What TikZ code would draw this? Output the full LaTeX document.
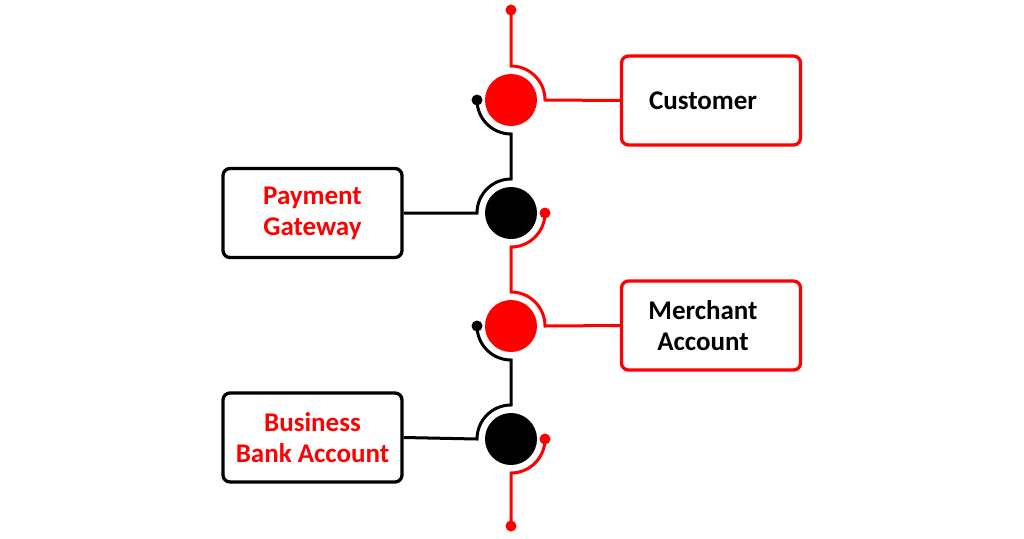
\documentclass[tikz,border=0pt]{standalone}
\usepackage{fontspec}
\setmainfont{Carlito}
\usetikzlibrary{calc}
\definecolor{pred}{RGB}{255,0,0}
\begin{document}
\begin{tikzpicture}[x=1pt,y=-1pt,
  hub/.style={circle,minimum size=52pt,inner sep=0pt},
  box/.style={draw,rounded corners=7pt,line width=3.3pt,minimum width=179pt,minimum height=89pt,
    inner sep=0pt,font=\bfseries\fontsize{27}{32}\selectfont,align=center},
  wire/.style={line width=3pt},
  dot/.style={circle,fill,inner sep=0pt,minimum size=11pt}]
\useasboundingbox (0,0) rectangle (1024,538);
% hubs
\node[hub,fill=pred] (c1) at (511,100) {};
\node[hub,fill=black] (c2) at (511,213) {};
\node[hub,fill=pred] (c3) at (511,326) {};
\node[hub,fill=black] (c4) at (511,439) {};
% boxes
\node[box,draw=pred,text=black] (cust) at (711,100.5) {Customer\hspace*{16pt}};
\node[box,draw=black,text=pred] (pay) at (312.5,213) {Payment\\[-1pt]Gateway};
\node[box,draw=pred,text=black] (merch) at (711,325.5) {Merchant\hspace*{16pt}\\[-1pt]Account\hspace*{16pt}};
\node[box,draw=black,text=pred] (bank) at (312.5,437.5) {Business\\[-1pt]Bank Account};
% end dots
\node[dot,pred] (top) at (511,10) {};
\node[dot,pred] (bot) at (511,526) {};
\node[dot,pred] (r2) at ($(c2)+(34,0)$) {};
\node[dot,pred] (r4) at ($(c4)+(34,0)$) {};
\node[dot,black] (l1) at ($(c1)+(-34,0)$) {};
\node[dot,black] (l3) at ($(c3)+(-34,0)$) {};
% red wires
\draw[wire,pred] (top.center) -- ($(c1)+(0,-34)$) arc[start angle=-90,end angle=0,radius=34] -- (cust.west);
\draw[wire,pred] (r2.center) arc[start angle=0,end angle=90,radius=34] -- ($(c3)+(0,-34)$)
  arc[start angle=-90,end angle=0,radius=34] -- (merch.west);
\draw[wire,pred] (r4.center) arc[start angle=0,end angle=90,radius=34] -- (bot.center);
% black wires
\draw[wire,black] (l1.center) arc[start angle=180,end angle=90,radius=34] -- ($(c2)+(0,-34)$)
  arc[start angle=270,end angle=180,radius=34] -- (pay.east);
\draw[wire,black] (l3.center) arc[start angle=180,end angle=90,radius=34] -- ($(c4)+(0,-34)$)
  arc[start angle=270,end angle=180,radius=34] -- (bank.east);
\end{tikzpicture}
\end{document}
